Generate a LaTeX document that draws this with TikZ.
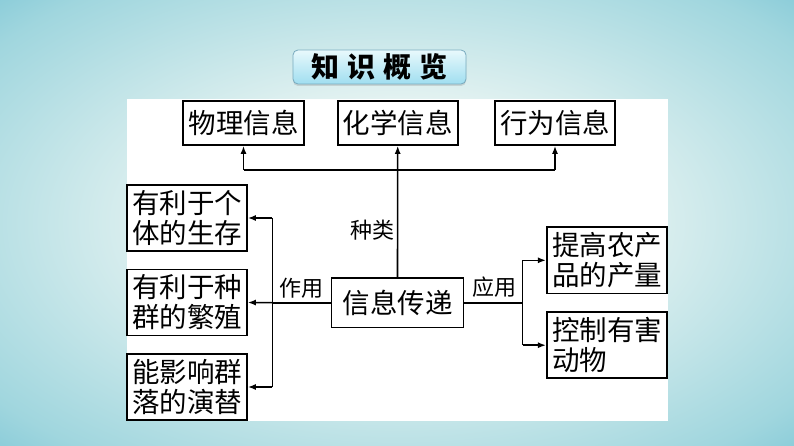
\documentclass[tikz,border=0pt]{standalone}
\usepackage{fontspec}
\newfontfamily\cjk{Noto Sans CJK SC}
\usetikzlibrary{arrows.meta,shadows}
\definecolor{bgin}{RGB}{234,245,243}
\definecolor{bgmid}{RGB}{160,214,222}
\definecolor{bgout}{RGB}{60,168,198}
\definecolor{ttop}{RGB}{232,249,252}
\definecolor{tbot}{RGB}{160,222,240}
\definecolor{tborder}{RGB}{120,170,190}
\pgfdeclareradialshading{bgshade}{\pgfpoint{0bp}{0bp}}{color(0bp)=(bgin); color(12bp)=(bgin); color(32bp)=(bgmid); color(50bp)=(bgout)}
\tikzset{
  box/.style={draw=black, line width=1.6pt, fill=white, inner sep=0pt, align=left,
    font=\cjk\fontsize{27.5}{30}\selectfont},
  lbl/.style={inner sep=0pt, font=\cjk\fontsize{22}{24}\selectfont},
  conn/.style={line width=1.6pt, draw=black},
  arr/.style={conn, -{Latex[length=8pt,width=6pt]}},
}
\begin{document}
\begin{tikzpicture}[x=1pt,y=-1pt]
\useasboundingbox (0,0) rectangle (794,446);
\shade[shading=bgshade] (0,0) rectangle (794,446);
% title
\node[draw=tborder, line width=0.8pt, rounded corners=5pt, top color=ttop, bottom color=tbot,
  minimum width=173pt, minimum height=34pt, inner sep=0pt,
  drop shadow={shadow xshift=0pt, shadow yshift=-2pt, opacity=0.25},
  font=\cjk\bfseries\fontsize{28}{30}\selectfont] (title) at (379.5,67)
  {知\hspace{8pt}识\hspace{8pt}概\hspace{8pt}览};
% white panel
\fill[white] (126.6,99) rectangle (668,421);
% boxes
\node[box, minimum width=120.5pt, minimum height=44pt] (phys) at (243.5,123) {物理信息};
\node[box, minimum width=120pt, minimum height=44pt] (chem) at (397.7,123) {化学信息};
\node[box, minimum width=120.5pt, minimum height=44pt] (behav) at (555,123) {行为信息};
\node[box, minimum width=120pt, minimum height=66pt] (l1) at (187,218) {有利于个\\体的生存};
\node[box, minimum width=120pt, minimum height=66pt] (l2) at (187,302.5) {有利于种\\群的繁殖};
\node[box, minimum width=120pt, minimum height=66pt] (l3) at (187,387) {能影响群\\落的演替};
\node[box, minimum width=131.7pt, minimum height=49.3pt, align=center] (ctr) at (397.5,302.7) {信息传递};
\node[box, minimum width=120.5pt, minimum height=66pt] (r1) at (607,260.3) {提高农产\\品的产量};
\node[box, minimum width=120.5pt, minimum height=66pt] (r2) at (607,345.2) {控制有害\\动物\phantom{有害}};
% labels
\node[lbl] (kind) at (372,230) {种类};
\node[lbl] (eff) at (301,288) {作用};
\node[lbl] (app) at (494,287) {应用};
% junctions
\coordinate (bar) at (397.7,170);
\coordinate (lj) at (272.4,302.7);
\coordinate (rj) at (522.5,302.7);
% top
\draw[arr] (ctr.north) -- (chem.south);
\draw[conn] (bar -| phys.south) -- (bar -| behav.south);
\draw[arr] (bar -| phys.south) -- (phys.south);
\draw[arr] (bar -| behav.south) -- (behav.south);
% left
\draw[conn] (ctr.west) -- (lj);
\draw[conn] (lj |- l1.east) -- (lj |- l3.east);
\draw[arr] (lj |- l1.east) -- (l1.east);
\draw[arr] (lj) -- (l2.east);
\draw[arr] (lj |- l3.east) -- (l3.east);
% right
\draw[conn] (ctr.east) -- (rj);
\draw[conn] (rj |- r1.west) -- (rj |- r2.west);
\draw[arr] (rj |- r1.west) -- (r1.west);
\draw[arr] (rj |- r2.west) -- (r2.west);
\end{tikzpicture}
\end{document}
